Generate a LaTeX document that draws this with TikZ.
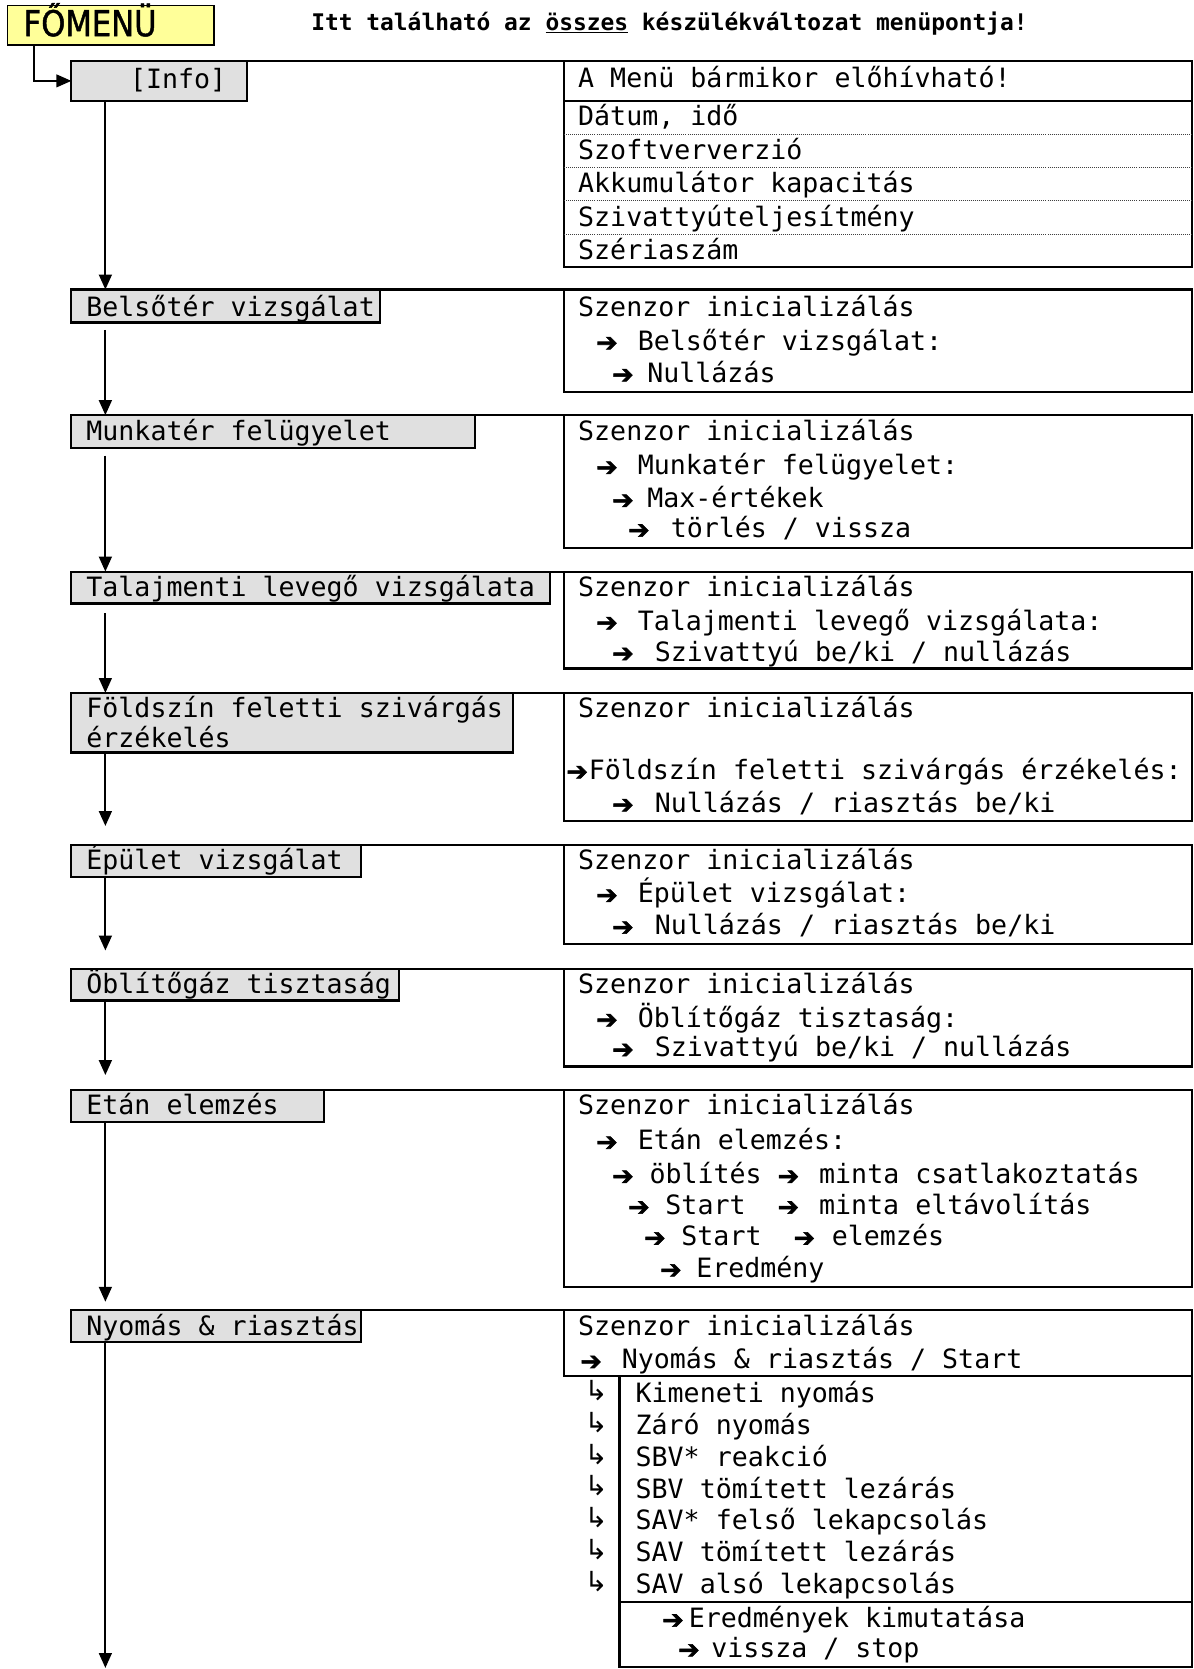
\documentclass[tikz,border=0pt]{standalone}
\usepackage{fontspec}
\setmonofont{DejaVu Sans Mono}
\newfontfamily\symfont{DejaVu Sans}
\newfontfamily\nyilfont[FakeBold=2.2]{DejaVu Sans}
\newfontfamily\menufont[FakeStretch=0.86,FakeBold=1.2]{DejaVu Sans}
\usetikzlibrary{arrows.meta}

\definecolor{boxgray}{RGB}{224,224,224}
\definecolor{menuyellow}{RGB}{255,255,153}

% arrow glyph in a box of given width (pt)
\newcommand{\ny}[1]{\makebox[#1pt][l]{\raisebox{-1pt}{\nyilfont\fontsize{24}{24}\selectfont ➔}}}

\tikzset{
  menubox/.style={draw, line width=2pt, fill=boxgray, rectangle, anchor=north west, inner sep=0, outer sep=0},
  infobox/.style={draw, line width=2pt, rectangle, anchor=north west, inner sep=0, outer sep=0},
  txt/.style={anchor=base west, inner sep=0, font=\ttfamily\fontsize{25}{31}\selectfont},
  lefele/.style={-{Triangle[length=14pt,width=12pt]}, line width=2pt},
  vonal/.style={line width=2pt},
}

\begin{document}
\begin{tikzpicture}[x=1pt, y=-1pt]
\useasboundingbox (0,0) rectangle (1121,1568);

% fejlec
\node[draw, line width=1.5pt, fill=menuyellow, anchor=north west, inner sep=0, outer sep=0,
      minimum width=194pt, minimum height=37pt] (fomenu) at (7,5) {};
\node[anchor=base west, inner sep=0, font=\menufont\fontsize{33.5}{33.5}\selectfont] (fomenut) at (22,34) {FŐMENÜ};
\node[anchor=base, inner sep=0, font=\ttfamily\bfseries\fontsize{21.5}{26}\selectfont] (cim) at (629,29)
  {Itt található az \underline{összes} készülékváltozat menüpontja!};

% [Info]
\node[menubox, minimum width=165pt, minimum height=38pt] (info) at (67,57) {};
\node[txt] (infot) at (122,83) {[Info]};
\node[infobox, minimum width=590pt, minimum height=194pt] (infoR) at (530,57) {};
\draw[vonal] (info.north east) -- (infoR.north west);
\draw[vonal] (530,95) -- (1120,95);
\foreach \y in {126,157,188,220}
  \draw[densely dotted, line width=0.9pt, black!75] (530,\y) -- (1120,\y);
\node[txt] (i0) at (543,82) {A Menü bármikor előhívható!};
\node[txt] (i1) at (543,118) {Dátum, idő};
\node[txt] (i2) at (543,150) {Szoftververzió};
\node[txt] (i3) at (543,181) {Akkumulátor kapacitás};
\node[txt] (i4) at (543,213) {Szivattyúteljesítmény};
\node[txt] (i5) at (543,244) {Szériaszám};
\draw[lefele, line width=1.5pt] ([xshift=25pt]fomenu.south west) |- (info.west);

% Belsoter
\node[menubox, minimum width=290pt, minimum height=31pt] (belso) at (67,272) {};
\node[txt] (belsot) at (81,297) {Belsőtér vizsgálat};
\node[infobox, minimum width=590pt, minimum height=96pt] (belsoR) at (530,272) {};
\draw[vonal] (belso.north east) -- (belsoR.north west);
\node[txt] (b1) at (543,297) {Szenzor inicializálás};
\node[txt] (b2) at (560,329) {\ny{39}Belsőtér vizsgálat:};
\node[txt] (b3) at (575,359) {\ny{33}Nullázás};
\draw[lefele] ([xshift=32pt]info.south west) -- ([xshift=32pt]belso.north west);

% Munkater
\node[menubox, minimum width=379pt, minimum height=31pt] (munka) at (67,390) {};
\node[txt] (munkat) at (81,414) {Munkatér felügyelet};
\node[infobox, minimum width=590pt, minimum height=125pt] (munkaR) at (530,390) {};
\draw[vonal] (munka.north east) -- (munkaR.north west);
\node[txt] (m1) at (543,414) {Szenzor inicializálás};
\node[txt] (m2) at (560,446) {\ny{39}Munkatér felügyelet:};
\node[txt] (m3) at (575,477) {\ny{33}Max-értékek};
\node[txt] (m4) at (590,505) {\ny{40}törlés / vissza};
\draw[lefele] ([xshift=32pt,yshift=-7pt]belso.south west) -- ([xshift=32pt]munka.north west);

% Talajmenti
\node[menubox, minimum width=450pt, minimum height=30pt] (talaj) at (67,537) {};
\node[txt] (talajt) at (81,560) {Talajmenti levegő vizsgálata};
\node[infobox, minimum width=590pt, minimum height=91pt] (talajR) at (530,537) {};
\draw[vonal] (talaj.north east) -- (talajR.north west);
\node[txt] (t1) at (543,560) {Szenzor inicializálás};
\node[txt] (t2) at (560,592) {\ny{39}Talajmenti levegő vizsgálata:};
\node[txt] (t3) at (575,621) {\ny{40}Szivattyú be/ki / nullázás};
\draw[lefele] ([xshift=32pt,yshift=-7pt]munka.south west) -- ([xshift=32pt]talaj.north west);

% Foldszin
\node[menubox, minimum width=415pt, minimum height=56pt] (fold) at (67,651) {};
\node[txt] (foldt1) at (81,674) {Földszín feletti szivárgás};
\node[txt] (foldt2) at (81,702) {érzékelés};
\node[infobox, minimum width=590pt, minimum height=120pt] (foldR) at (530,651) {};
\draw[vonal] (fold.north east) -- (foldR.north west);
\node[txt] (f1) at (543,674) {Szenzor inicializálás};
\node[txt] (f2) at (532,732) {\ny{21}Földszín feletti szivárgás érzékelés:};
\node[txt] (f3) at (575,763) {\ny{40}Nullázás / riasztás be/ki};
\draw[lefele] ([xshift=32pt,yshift=-9pt]talaj.south west) -- ([xshift=32pt]fold.north west);

% Epulet
\node[menubox, minimum width=272pt, minimum height=30pt] (epulet) at (67,794) {};
\node[txt] (epulett) at (81,817) {Épület vizsgálat};
\node[infobox, minimum width=590pt, minimum height=93pt] (epuletR) at (530,794) {};
\draw[vonal] (epulet.north east) -- (epuletR.north west);
\node[txt] (e1) at (543,817) {Szenzor inicializálás};
\node[txt] (e2) at (560,848) {\ny{39}Épület vizsgálat:};
\node[txt] (e3) at (575,878) {\ny{40}Nullázás / riasztás be/ki};
\draw[lefele] ([xshift=32pt]fold.south west) -- ([xshift=32pt,yshift=18pt]epulet.north west);

% Oblitogaz
\node[menubox, minimum width=308pt, minimum height=30pt] (oblito) at (67,910) {};
\node[txt] (oblitot) at (81,933) {Öblítőgáz tisztaság};
\node[infobox, minimum width=590pt, minimum height=92pt] (oblitoR) at (530,910) {};
\draw[vonal] (oblito.north east) -- (oblitoR.north west);
\node[txt] (o1) at (543,933) {Szenzor inicializálás};
\node[txt] (o2) at (560,965) {\ny{39}Öblítőgáz tisztaság:};
\node[txt] (o3) at (575,993) {\ny{40}Szivattyú be/ki / nullázás};
\draw[lefele] ([xshift=32pt]epulet.south west) -- ([xshift=32pt,yshift=17pt]oblito.north west);

% Etan
\node[menubox, minimum width=237pt, minimum height=30pt] (etan) at (67,1024) {};
\node[txt] (etant) at (81,1047) {Etán elemzés};
\node[infobox, minimum width=590pt, minimum height=185pt] (etanR) at (530,1024) {};
\draw[vonal] (etan.north east) -- (etanR.north west);
\node[txt] (a1) at (543,1047) {Szenzor inicializálás};
\node[txt] (a2) at (560,1080) {\ny{39}Etán elemzés:};
\node[txt] (a3) at (575,1112) {\ny{35}öblítés \ny{39}minta csatlakoztatás};
\node[txt] (a4) at (590,1141) {\ny{35}Start\ \ \ny{39}minta eltávolítás};
\node[txt] (a5) at (605,1170) {\ny{35}Start\ \ \ny{36}elemzés};
\node[txt] (a6) at (620,1200) {\ny{34}Eredmény};
\draw[lefele] ([xshift=32pt]oblito.south west) -- ([xshift=32pt,yshift=14pt]etan.north west);

% Nyomas
\node[menubox, minimum width=272pt, minimum height=30pt] (nyomas) at (67,1231) {};
\node[txt] (nyomast) at (81,1255) {Nyomás \& riasztás};
\node[infobox, minimum width=590pt, minimum height=62pt] (nyomasR) at (530,1231) {};
\draw[vonal] (nyomas.north east) -- (nyomasR.north west);
\node[txt] (n1) at (543,1255) {Szenzor inicializálás};
\node[txt] (n2) at (545,1286) {\ny{39}Nyomás \& riasztás / Start};
\node[infobox, minimum width=538pt, minimum height=273pt] (lista) at (582,1293) {};
\draw[vonal] (582,1505) -- (1120,1505);
\foreach \t [count=\i] in {Kimeneti nyomás, Záró nyomás, SBV* reakció, SBV tömített lezárás,
    SAV* felső lekapcsolás, SAV tömített lezárás, SAV alsó lekapcsolás} {
  \node[txt] (l\i) at (597,{1318+29.8*(\i-1)}) {\t};
  \node[anchor=base west, inner sep=0, font=\symfont\fontsize{26}{26}\selectfont] (j\i) at (549,{1316+29.8*(\i-1)}) {↳};
}
\node[txt] (r1) at (622,1529) {\ny{25}Eredmények kimutatása};
\node[txt] (r2) at (637,1557) {\ny{31}vissza / stop};
\draw[lefele] ([xshift=32pt]etan.south west) -- ([xshift=32pt,yshift=8pt]nyomas.north west);
\coordinate (vege) at (99,1567);
\draw[lefele] ([xshift=32pt]nyomas.south west) -- (vege);
\end{tikzpicture}
\end{document}
